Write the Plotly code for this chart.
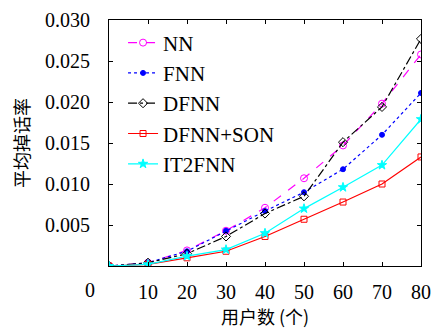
import plotly.graph_objects as go

users = [0, 10, 20, 30, 40, 50, 60, 70, 80]
nn = [0.0, 0.0004, 0.0019, 0.0043, 0.0071, 0.0107, 0.0147, 0.0198, 0.0258]
fnn = [0.0, 0.0004, 0.0018, 0.0043, 0.0067, 0.0090, 0.0118, 0.0160, 0.0211]
dfnn = [0.0, 0.0004, 0.0015, 0.0036, 0.0064, 0.0085, 0.0151, 0.0194, 0.0277]
dfnn_son = [0.0, 0.0002, 0.0010, 0.0018, 0.0036, 0.0057, 0.0078, 0.0100, 0.0133]
it2fnn = [0.0, 0.0002, 0.0012, 0.0020, 0.0040, 0.0070, 0.0096, 0.0123, 0.0179]

x_ticks = [10, 20, 30, 40, 50, 60, 70, 80]
y_ticks = [0.005, 0.010, 0.015, 0.020, 0.025, 0.030]
y_tick_text = ["0.005", "0.010", "0.015", "0.020", "0.025", "0.030"]

series = [
    ("NN", nn, "#ff00ff", "dash", "circle-open", 7),
    ("FNN", fnn, "#0000ff", "dot", "circle", 5),
    ("DFNN", dfnn, "#000000", "dashdot", "diamond-open", 7),
    ("DFNN+SON", dfnn_son, "#ff0000", "solid", "square-open", 6),
    ("IT2FNN", it2fnn, "#00ffff", "solid", "star", 7),
]

fig = go.Figure()
for name, ys, color, dash, sym, size in series:
    fig.add_trace(go.Scatter(
        x=users, y=ys, name=name, mode="lines+markers",
        line=dict(color=color, dash=dash, width=1.2),
        marker=dict(symbol=sym, size=size, color=color, line=dict(color=color, width=1)),
    ))

font = "Liberation Serif, Times New Roman, serif"
cjk = "Noto Sans CJK SC"
fig.update_layout(
    width=432, height=331,
    margin=dict(l=109, r=11, t=20, b=65),
    paper_bgcolor="white", plot_bgcolor="white",
    font=dict(family=font, size=20, color="black"),
    showlegend=True,
    legend=dict(x=0.045, y=0.99, xanchor="left", yanchor="top",
                bgcolor="rgba(0,0,0,0)", borderwidth=0,
                font=dict(size=21, family=font), itemwidth=30,
                tracegroupgap=0),
    xaxis=dict(range=[0, 80], tickvals=x_ticks, ticktext=[str(v) for v in x_ticks],
               ticks="inside", ticklen=4, tickcolor="black",
               showline=True, linecolor="black", linewidth=1, mirror="ticks",
               showgrid=False, zeroline=False, automargin=False,
               ticklabelstandoff=8,
               title=dict(text="用户数 (个)", font=dict(family=cjk, size=18), standoff=6)),
    yaxis=dict(range=[0, 0.030], tickvals=y_ticks, ticktext=y_tick_text,
               ticks="inside", ticklen=4, tickcolor="black",
               showline=True, linecolor="black", linewidth=1, mirror="ticks",
               showgrid=False, zeroline=False, automargin=False,
               ticklabelstandoff=14,
               title=dict(text="平均掉话率", font=dict(family=cjk, size=18), standoff=10)),
)
fig.add_annotation(x=(90 - 109) / 312, y=(266 - 290) / 246, xref="paper", yref="paper",
                   text="0", showarrow=False, xanchor="center", yanchor="middle",
                   font=dict(size=20, family=font))
fig.write_html("out.html", config={"displayModeBar": False},
               post_script="document.body.style.margin='0';document.body.style.overflow='hidden';")
